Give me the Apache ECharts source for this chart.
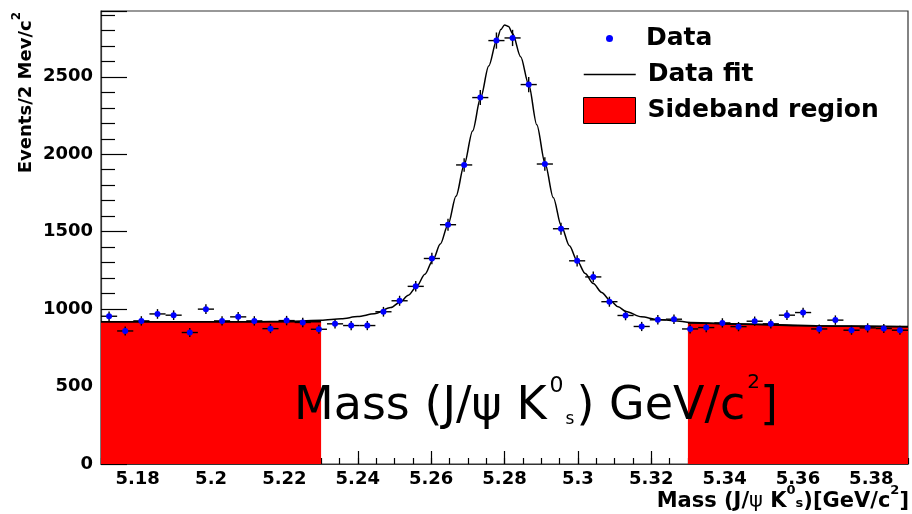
<!DOCTYPE html>
<html>
<head>
<meta charset="utf-8">
<script src="https://cdn.jsdelivr.net/npm/echarts@6/dist/echarts.min.js"></script>
<style>
  html, body { margin: 0; padding: 0; background: #fff; }
  #chart { width: 912px; height: 514px; }
</style>
</head>
<body>
<div id="chart"></div>
<script>
// bin centres in GeV/c^2 (50 bins, 4.4 MeV wide)
const binCenters = [5.1722, 5.1766, 5.1810, 5.1854, 5.1898, 5.1942, 5.1986, 5.2030, 5.2074, 5.2118,
  5.2162, 5.2206, 5.2250, 5.2294, 5.2338, 5.2382, 5.2426, 5.2470, 5.2514, 5.2558,
  5.2602, 5.2646, 5.2690, 5.2734, 5.2778, 5.2822, 5.2866, 5.2910, 5.2954, 5.2998,
  5.3042, 5.3086, 5.3130, 5.3174, 5.3218, 5.3262, 5.3306, 5.3350, 5.3394, 5.3438,
  5.3482, 5.3526, 5.3570, 5.3614, 5.3658, 5.3702, 5.3746, 5.3790, 5.3834, 5.3878];
// events per bin
const counts = [954, 859, 924, 969, 961, 849, 1000, 924, 950, 924,
  874, 926, 914, 870, 905, 894, 894, 983, 1054, 1147,
  1327, 1545, 1931, 2366, 2734, 2751, 2450, 1937, 1519, 1312,
  1208, 1048, 959, 888, 931, 935, 872, 881, 911, 887,
  922, 905, 961, 978, 872, 929, 864, 879, 875, 864];
const binHalfWidth = 0.0022;

// fit curve
const fitX = [5.17, 5.19, 5.21, 5.222, 5.23, 5.2355, 5.24, 5.2445, 5.249, 5.2515, 5.2538, 5.256,
  5.2583, 5.2605, 5.2625, 5.2646, 5.2668, 5.269, 5.2713, 5.2735, 5.2757, 5.2779, 5.279, 5.28,
  5.2811, 5.2822, 5.2844, 5.2866, 5.2888, 5.2911, 5.2933, 5.2955, 5.2977, 5.2998, 5.302, 5.3042,
  5.3065, 5.3087, 5.311, 5.3131, 5.3173, 5.3218, 5.3263, 5.3307, 5.345, 5.36, 5.375, 5.39];
const fitY = [918, 918, 919, 922, 928, 938, 952, 970, 1010, 1045, 1090, 1145,
  1225, 1318, 1420, 1545, 1730, 1931, 2150, 2366, 2570, 2740, 2805, 2835,
  2825, 2780, 2630, 2450, 2190, 1937, 1720, 1535, 1410, 1312, 1230, 1165,
  1108, 1058, 1015, 985, 950, 933, 925, 914, 902, 893, 889, 885];

// sideband regions
const sideLeftX = [5.17, 5.23];
const sideLeftY = [918, 918];
const sideRightX = [5.33, 5.35, 5.365, 5.39];
const sideRightY = [910, 903, 893, 888];

const xTicks = [5.18, 5.2, 5.22, 5.24, 5.26, 5.28, 5.3, 5.32, 5.34, 5.36, 5.38];

const zip = (xs, ys) => xs.map((x, i) => [x, ys[i]]);
const points = binCenters.map((x, i) => [x, counts[i], Math.sqrt(counts[i])]);

const boldFont = { fontFamily: 'DejaVu Sans', fontWeight: 'bold', color: '#000' };
const legendText = Object.assign({}, boldFont, { fontSize: 25 });

function renderErrorBar(params, api) {
  const x = api.value(0), y = api.value(1), err = api.value(2);
  const lo = api.coord([x, y - err]);
  const hi = api.coord([x, y + err]);
  const l = api.coord([x - binHalfWidth, y]);
  const r = api.coord([x + binHalfWidth, y]);
  const st = { stroke: '#000', lineWidth: 1.4 };
  return {
    type: 'group',
    children: [
      { type: 'line', shape: { x1: lo[0], y1: lo[1], x2: hi[0], y2: hi[1] }, style: st },
      { type: 'line', shape: { x1: l[0], y1: l[1], x2: r[0], y2: r[1] }, style: st }
    ]
  };
}

let myChart = echarts.init(document.getElementById('chart'));

myChart.setOption({
  animation: false,
  grid: {
    left: 101, right: 4, top: 11, bottom: 50,
    outerBoundsMode: 'none', containLabel: false,
    show: true, borderColor: '#333', borderWidth: 1.2
  },
  legend: [
    {
      data: ['Data'], left: 606, top: 26, padding: 0, selectedMode: false,
      itemWidth: 7, itemHeight: 26,
      textStyle: Object.assign({ padding: [0, 0, 0, 28] }, legendText)
    },
    {
      data: ['Data fit'], left: 583, top: 62, padding: 0, selectedMode: false,
      itemWidth: 52, itemHeight: 26,
      itemStyle: { color: 'rgba(0,0,0,0)', borderColor: 'rgba(0,0,0,0)', borderWidth: 0 },
      lineStyle: { color: '#000', width: 1.5 },
      textStyle: Object.assign({ padding: [0, 0, 0, 7] }, legendText)
    },
    {
      data: [{ name: 'Sideband region', icon: 'rect' }], left: 583, top: 97, padding: 0, selectedMode: false,
      itemWidth: 52, itemHeight: 26, symbolKeepAspect: false,
      itemStyle: { color: '#ff0000', borderColor: '#000', borderWidth: 1 },
      textStyle: Object.assign({ padding: [0, 0, 0, 7] }, legendText)
    }
  ],
  xAxis: [
    {
      type: 'value', min: 5.17, max: 5.39, position: 'bottom',
      axisLine: { lineStyle: { color: '#333', width: 1.2 } },
      axisTick: { inside: true, length: 13, customValues: xTicks, lineStyle: { color: '#000', width: 1.2 } },
      axisLabel: Object.assign({ customValues: xTicks, fontSize: 18, margin: 6 }, boldFont),
      splitLine: { show: false }
    },
    {
      type: 'value', min: 5.17, max: 5.39, interval: 0.005, position: 'bottom',
      axisLine: { show: false },
      axisTick: { inside: true, length: 6, lineStyle: { color: '#000', width: 1.2 } },
      axisLabel: { show: false },
      splitLine: { show: false }
    }
  ],
  yAxis: {
    type: 'value', min: 0, max: 2925, interval: 500,
    axisLine: { show: true, lineStyle: { color: '#333', width: 1.2 } },
    axisTick: { show: true, inside: true, length: 26, lineStyle: { color: '#000', width: 1.2 } },
    minorTick: { show: true, splitNumber: 5, length: 14, lineStyle: { color: '#000', width: 1.2 } },
    axisLabel: Object.assign({ fontSize: 18, margin: 8, showMaxLabel: false, formatter: (v) => String(v) }, boldFont),
    splitLine: { show: false }
  },
  graphic: [
    {
      // y axis title
      type: 'text', x: 24, y: 12, rotation: Math.PI / 2, z: 100,
      style: {
        text: '{a|Events/2 Mev/c}{sup|2}',
        align: 'right', verticalAlign: 'middle',
        rich: {
          a: { fontFamily: 'DejaVu Sans', fontWeight: 'bold', fontSize: 18, lineHeight: 22, verticalAlign: 'bottom', fill: '#000' },
          sup: { fontFamily: 'DejaVu Sans', fontWeight: 'bold', fontSize: 12, lineHeight: 12, padding: [0, 0, 12, 0], verticalAlign: 'bottom', fill: '#000' }
        }
      }
    },
    {
      // x axis title
      type: 'text', x: 909, y: 512, z: 100,
      style: {
        text: '{a|Mass (J/}{psi|ψ}{a| K}{sup|0}{sub|s}{a|)[GeV/c}{sup|2}{a|]}',
        align: 'right', verticalAlign: 'bottom',
        rich: {
          a: { fontFamily: 'DejaVu Sans', fontWeight: 'bold', fontSize: 21, lineHeight: 26, verticalAlign: 'bottom', fill: '#000' },
          psi: { fontFamily: 'DejaVu Sans', fontSize: 21, lineHeight: 26, verticalAlign: 'bottom', fill: '#000' },
          sup: { fontFamily: 'DejaVu Sans', fontWeight: 'bold', fontSize: 13, lineHeight: 13, padding: [0, 0, 15, 0], verticalAlign: 'bottom', fill: '#000' },
          sub: { fontFamily: 'DejaVu Sans', fontWeight: 'bold', fontSize: 13, lineHeight: 13, padding: [0, 0, 2, 0], verticalAlign: 'bottom', fill: '#000' }
        }
      }
    },
    {
      // large overlay label
      type: 'text', x: 294, y: 430, z: 100,
      style: {
        text: '{a|Mass (J/ψ K}{sup|0}{sub|s}{a|) GeV/c}{sup2|2}{a|]}',
        align: 'left', verticalAlign: 'bottom',
        rich: {
          a: { fontFamily: 'DejaVu Sans', fontSize: 46, lineHeight: 60, verticalAlign: 'bottom', fill: '#000' },
          sup: { fontFamily: 'DejaVu Sans', fontSize: 22, lineHeight: 22, padding: [0, 0, 33, 3], verticalAlign: 'bottom', fill: '#000' },
          sub: { fontFamily: 'DejaVu Sans', fontSize: 17, lineHeight: 17, padding: [0, 2, 2, 2], verticalAlign: 'bottom', fill: '#000' },
          sup2: { fontFamily: 'DejaVu Sans', fontSize: 20, lineHeight: 20, padding: [0, 0, 37, 2], verticalAlign: 'bottom', fill: '#000' }
        }
      }
    }
  ],
  series: [
    {
      name: 'Sideband region', type: 'line', data: zip(sideLeftX, sideLeftY),
      symbol: 'none', color: '#ff0000', z: 1,
      lineStyle: { color: '#000', width: 1.5 },
      areaStyle: { color: '#ff0000', opacity: 1 }
    },
    {
      name: 'Sideband region', type: 'line', data: zip(sideRightX, sideRightY),
      symbol: 'none', color: '#ff0000', z: 1,
      lineStyle: { color: '#000', width: 1.5 },
      areaStyle: { color: '#ff0000', opacity: 1 }
    },
    {
      name: 'Data fit', type: 'line', data: zip(fitX, fitY),
      symbol: 'none', smooth: 0.3, smoothMonotone: 'x', color: '#000', z: 2,
      lineStyle: { color: '#000', width: 1.5 }
    },
    {
      name: 'errors', type: 'custom', data: points, z: 3,
      renderItem: renderErrorBar, encode: { x: 0, y: 1 }
    },
    {
      name: 'Data', type: 'scatter', data: points, z: 4,
      symbol: 'circle', symbolSize: 6, color: '#0000ff',
      itemStyle: { color: '#0000ff', opacity: 1 }
    }
  ]
});
</script>
</body>
</html>
